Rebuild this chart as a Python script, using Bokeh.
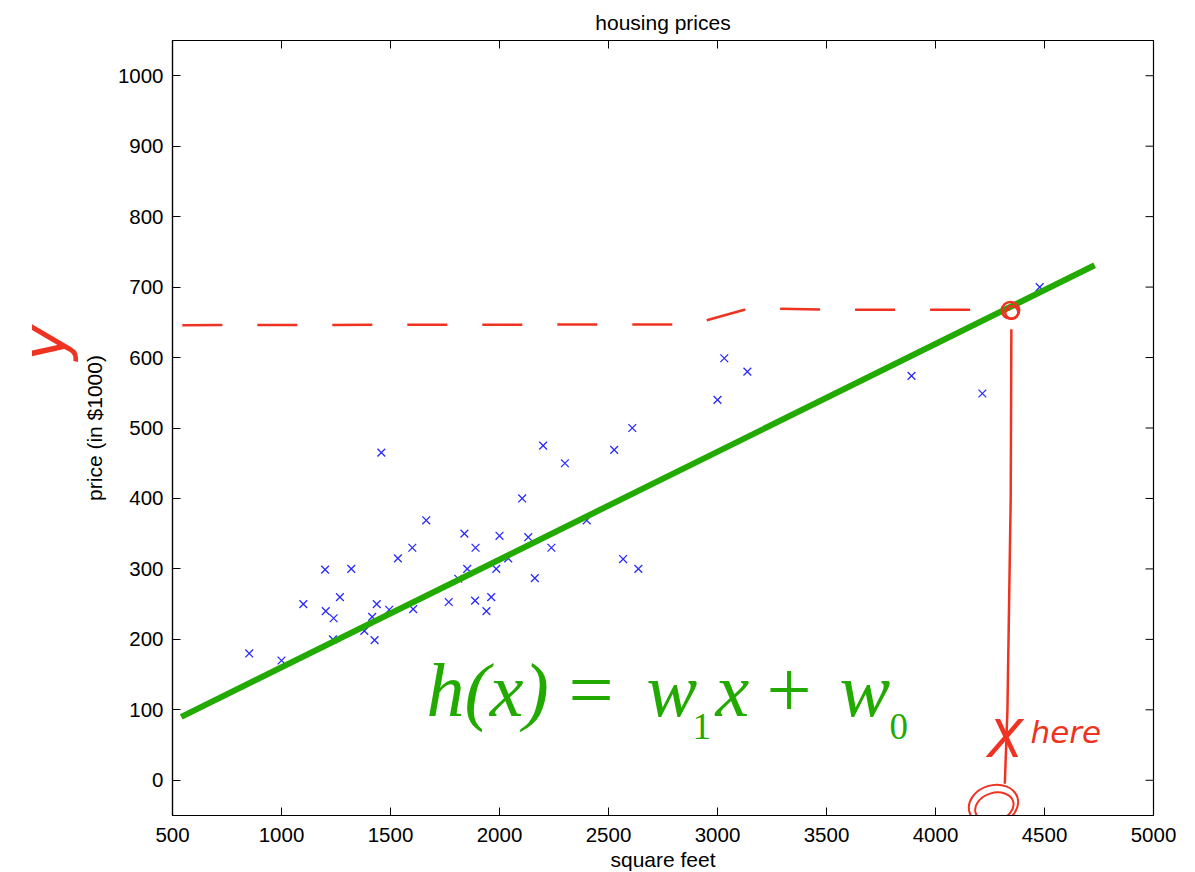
import math
from bokeh.plotting import figure
from bokeh.models import Range1d, Label, FixedTicker, Title
from bokeh.embed import file_html
from bokeh.resources import INLINE

# ---- data ----
sqft = [2104, 1600, 2400, 1416, 3000, 1985, 1534, 1427, 1380, 1494, 1940, 2000,
        1890, 4478, 1268, 2300, 1320, 1236, 2609, 3031, 1767, 1888, 1604, 1962,
        3890, 1100, 1458, 2526, 2200, 2637, 1839, 1000, 2040, 3137, 1811, 1437,
        1239, 2132, 4215, 2162, 1664, 2238, 2567, 1200, 852, 1852, 1203]
price = [400, 330, 369, 232, 540, 300, 315, 199, 212, 242, 240, 347,
         330, 700, 260, 450, 300, 200, 500, 599, 253, 255, 243, 260,
         574, 250, 465, 469, 475, 300, 350, 170, 315, 580, 286, 250,
         230, 345, 549, 287, 369, 330, 314, 299, 180, 300, 240]

fit_x = [540, 4730]
fit_y = [90, 731]

x_ticks = [500, 1000, 1500, 2000, 2500, 3000, 3500, 4000, 4500, 5000]
y_ticks = [0, 100, 200, 300, 400, 500, 600, 700, 800, 900, 1000]

# hand-drawn annotation strokes (data units)
guide_x = [545, 2880, 3150, 3500, 4340]
guide_y = [646, 647, 670, 668, 668]
drop_x = [4348, 4345, 4330, 4318]
drop_y = [640, 400, 100, -5]

X_MIN, X_MAX = 500, 5000
Y_MIN, Y_MAX = -50, 1050

FONT = "Liberation Sans"
SERIF = "Liberation Serif"
GREEN = "#22aa00"
RED = "#ee3322"

p = figure(title="housing prices",
           x_range=Range1d(X_MIN, X_MAX), y_range=Range1d(Y_MIN, Y_MAX),
           frame_width=981, frame_height=775,
           min_border_left=172, min_border_top=40, min_border_right=34,
           min_border_bottom=40,
           output_backend="svg", toolbar_location=None)

p.title.align = "center"
p.title.text_font = FONT
p.title.text_font_size = "21px"
p.title.text_font_style = "normal"
p.title.text_color = "black"
p.title.standoff = 14

p.xgrid.visible = False
p.ygrid.visible = False
p.outline_line_color = "black"
p.outline_line_width = 1.2

for ax, ticks in ((p.xaxis[0], x_ticks), (p.yaxis[0], y_ticks)):
    ax.ticker = FixedTicker(ticks=ticks)
    ax.major_tick_in = 8
    ax.major_tick_out = 0
    ax.minor_tick_line_color = None
    ax.axis_line_color = "black"
    ax.axis_line_width = 1.2
    ax.major_tick_line_color = "black"
    ax.major_label_text_font = FONT
    ax.major_label_text_font_size = "20.5px"
    ax.major_label_text_color = "black"
    ax.axis_label_text_font = FONT
    ax.axis_label_text_font_size = "21px"
    ax.axis_label_text_font_style = "normal"
    ax.axis_label_text_color = "black"

p.xaxis.axis_label = "square feet"
p.yaxis.axis_label = "price (in $1000)"
p.xaxis.major_label_standoff = 12
p.yaxis.major_label_standoff = 9
p.xaxis.axis_label_standoff = 3
p.yaxis.axis_label_standoff = 9

# hand-written "y" to the left of the y-axis label
p.add_layout(Title(text="y", align="left", offset=455, text_font="DejaVu Sans",
                   text_font_style="italic", text_font_size="60px",
                   text_color=RED, standoff=0), "left")

# inward ticks on the top and right edges of the box
p.ray(x=x_ticks, y=[Y_MAX] * len(x_ticks), length=8, length_units="screen",
      angle=-math.pi / 2, line_color="black", line_width=1)
p.ray(x=[X_MAX] * len(y_ticks), y=y_ticks, length=8, length_units="screen",
      angle=math.pi, line_color="black", line_width=1)

# data
p.scatter(sqft, price, marker="x", size=11, line_color="#2a2aff", line_width=1.3)
p.line(fit_x, fit_y, line_color=GREEN, line_width=6)

# formula h(x) = w1 x + w0, typeset from pieces
fx, fy, fsub_y = 1665, 128, 76
pieces = [("h(x)", "italic", "76px", 0, fy),
          ("=", "normal", "80px", 142, fy),
          ("w", "italic", "76px", 220, fy),
          ("1", "normal", "37px", 266, fsub_y),
          ("x", "italic", "76px", 289, fy),
          ("+", "normal", "80px", 340, fy),
          ("w", "italic", "76px", 413, fy),
          ("0", "normal", "37px", 463, fsub_y)]
for txt, style, size, off, yy in pieces:
    p.add_layout(Label(x=fx, y=yy, x_offset=off, text=txt, text_font=SERIF,
                       text_font_style=style, text_font_size=size,
                       text_color=GREEN, text_baseline="alphabetic"))

# red hand annotations
p.line(guide_x, guide_y, line_color=RED, line_width=2.5, line_dash="40 35")
p.line(drop_x, drop_y, line_color=RED, line_width=2.5)
p.ellipse(x=[4344, 4350], y=[667, 664], width=[80, 60], height=[24, 18],
          fill_color=None, line_color=RED, line_width=2.5)
p.ellipse(x=[4266, 4270], y=[-35, -38], width=[230, 180], height=[56, 40],
          angle=[0.3, 0.3], fill_color=None, line_color=RED, line_width=2)
p.add_layout(Label(x=4240, y=58, text="X", text_font="DejaVu Sans",
                   text_font_style="italic", text_font_size="52px",
                   text_color=RED, text_baseline="alphabetic"))
p.add_layout(Label(x=4436, y=69, text="here", text_font="DejaVu Sans",
                   text_font_style="italic", text_font_size="31px",
                   text_color=RED, text_baseline="alphabetic"))

open("out.html", "w").write(file_html(p, INLINE))
